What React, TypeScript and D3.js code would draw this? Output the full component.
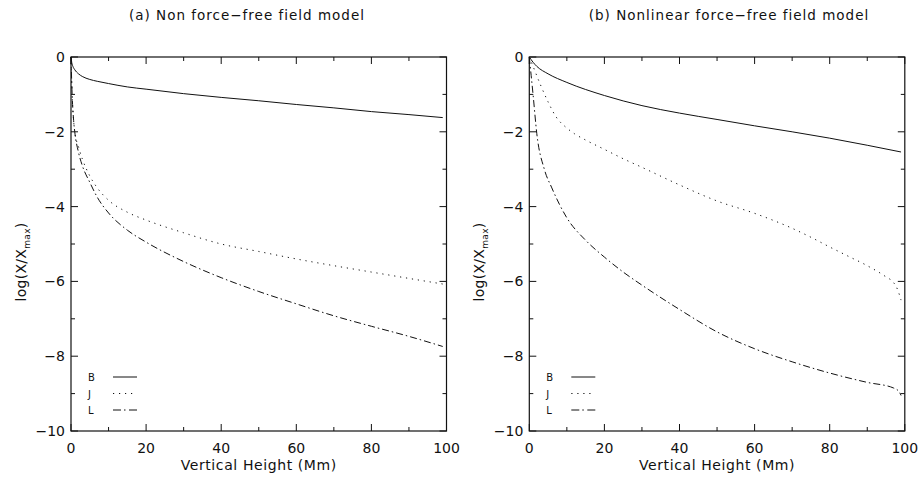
import React from "react";
import * as d3 from "d3";

// ---- Data ----
const xTicks = [0, 20, 40, 60, 80, 100];
const xMinor = [10, 30, 50, 70, 90];
const yTicks = [0, -2, -4, -6, -8, -10];
const yMinor = [-1, -3, -5, -7, -9];

// Panel (a) Non force-free field model
const aB_x = [0, 0.2, 0.5, 1, 2, 3, 5, 7, 10, 15, 20, 30, 40, 50, 60, 70, 80, 90, 99];
const aB_y = [0, -0.15, -0.25, -0.34, -0.45, -0.52, -0.6, -0.65, -0.71, -0.8, -0.86, -0.98, -1.08, -1.17, -1.27, -1.36, -1.46, -1.54, -1.62];
const aJ_x = [0, 0.3, 0.7, 1, 2, 3, 5, 7, 10, 15, 20, 30, 40, 50, 60, 70, 80, 90, 99];
const aJ_y = [0, -1.0, -1.7, -2.0, -2.4, -2.72, -3.18, -3.5, -3.83, -4.15, -4.36, -4.7, -5.0, -5.2, -5.4, -5.58, -5.75, -5.92, -6.07];
const aL_x = [0, 0.3, 0.7, 1, 2, 3, 5, 7, 10, 15, 20, 30, 40, 50, 60, 70, 80, 90, 99];
const aL_y = [0, -1.0, -1.7, -2.0, -2.55, -2.9, -3.35, -3.75, -4.17, -4.63, -4.95, -5.47, -5.9, -6.27, -6.6, -6.92, -7.2, -7.47, -7.74];

// Panel (b) Nonlinear force-free field model
const bB_x = [0, 1, 2, 5, 10, 20, 30, 40, 50, 60, 70, 80, 90, 99];
const bB_y = [0, -0.14, -0.25, -0.45, -0.68, -1.03, -1.3, -1.5, -1.67, -1.84, -2.0, -2.17, -2.36, -2.54];
const bJ_x = [0, 1, 3, 5, 7, 10, 12, 15, 20, 25, 30, 40, 50, 60, 70, 75, 80, 85, 90, 95, 97, 98, 99];
const bJ_y = [0, -0.25, -0.75, -1.2, -1.58, -1.9, -2.05, -2.22, -2.47, -2.72, -2.95, -3.42, -3.85, -4.18, -4.58, -4.82, -5.08, -5.33, -5.58, -5.88, -6.03, -6.2, -6.5];
const bL_x = [0, 0.5, 1, 2, 4, 6, 10, 15, 20, 25, 30, 40, 50, 60, 70, 80, 90, 97, 98.5, 99];
const bL_y = [0, -0.5, -1.0, -2.05, -3.0, -3.5, -4.3, -4.9, -5.35, -5.75, -6.1, -6.75, -7.35, -7.8, -8.15, -8.45, -8.7, -8.85, -8.95, -9.05];

const legendLabels = ["B", "J", "L"];
const titles = ["(a) Non force\u2212free field model", "(b) Nonlinear force\u2212free field model"];
const xTitle = "Vertical Height (Mm)";
const styles = ["none", "1.2,4.8", "7,3,1.5,3"];

const W = 923, H = 478;
const top = 57, bottom = 431, pw = 375.5;
const font = "'DejaVu Sans', sans-serif";
const ink = "#111";

function zip(xs: number[], ys: number[]): [number, number][] {
  return xs.map((x, i) => [x, ys[i]]);
}

function Panel({ x0, title, titleX, series }: { x0: number; title: string; titleX: number; series: [number, number][][] }) {
  const x = d3.scaleLinear().domain([0, 100]).range([x0, x0 + pw]);
  const y = d3.scaleLinear().domain([0, -10]).range([top, bottom]);
  const line = d3.line<[number, number]>().x(d => x(d[0])).y(d => y(d[1])).curve(d3.curveMonotoneX);
  const L = x0, R = x0 + pw;
  const legY = [377, 393.5, 410];
  return (
    <g>
      <text x={titleX} y={20} textAnchor="middle" fontFamily={font} fontSize={13.5} letterSpacing={1.0} fill={ink}>{title}</text>
      {series.map((s, i) => (
        <path key={i} d={line(s) || ""} fill="none" stroke={ink} strokeWidth={1}
          strokeDasharray={styles[i] === "none" ? undefined : styles[i]} />
      ))}
      <rect x={L} y={top} width={pw} height={bottom - top} fill="none" stroke={ink} strokeWidth={1.2} />
      {xTicks.map(t => (
        <g key={"xt" + t}>
          <line x1={x(t)} x2={x(t)} y1={bottom} y2={bottom - 7} stroke={ink} />
          <line x1={x(t)} x2={x(t)} y1={top} y2={top + 7} stroke={ink} />
          <text x={x(t)} y={453} textAnchor="middle" fontFamily={font} fontSize={14} fill={ink}>{t}</text>
        </g>
      ))}
      {xMinor.map(t => (
        <g key={"xm" + t}>
          <line x1={x(t)} x2={x(t)} y1={bottom} y2={bottom - 4} stroke={ink} />
          <line x1={x(t)} x2={x(t)} y1={top} y2={top + 4} stroke={ink} />
        </g>
      ))}
      {yTicks.map(t => (
        <g key={"yt" + t}>
          <line x1={L} x2={L + 7} y1={y(t)} y2={y(t)} stroke={ink} />
          <line x1={R} x2={R - 7} y1={y(t)} y2={y(t)} stroke={ink} />
          <text x={L - 6} y={y(t) + 5} textAnchor="end" fontFamily={font} fontSize={14} fill={ink}>
            {t < 0 ? "\u2212" + Math.abs(t) : String(t)}
          </text>
        </g>
      ))}
      {yMinor.map(t => (
        <g key={"ym" + t}>
          <line x1={L} x2={L + 4} y1={y(t)} y2={y(t)} stroke={ink} />
          <line x1={R} x2={R - 4} y1={y(t)} y2={y(t)} stroke={ink} />
        </g>
      ))}
      <text x={(L + R) / 2} y={470} textAnchor="middle" fontFamily={font} fontSize={14} letterSpacing={0.6} fill={ink}>{xTitle}</text>
      <text transform={`translate(${L - 45},262) rotate(-90)`} textAnchor="middle" fontFamily={font} fontSize={14} letterSpacing={0.3} fill={ink}>
        log(X/X<tspan fontSize={9} dy={4}>max</tspan><tspan dy={-4}>)</tspan>
      </text>
      {legendLabels.map((lab, i) => (
        <g key={lab}>
          <text x={L + 17} y={legY[i] + 4} fontFamily={font} fontSize={10} fill={ink}>{lab}</text>
          <line x1={L + 42} x2={L + 66} y1={legY[i]} y2={legY[i]} stroke={ink} strokeWidth={1}
            strokeDasharray={styles[i] === "none" ? undefined : (i === 1 ? "1.2,4.8" : "8,3,1.5,3.5")} />
        </g>
      ))}
    </g>
  );
}

export default function App() {
  const aSeries = [zip(aB_x, aB_y), zip(aJ_x, aJ_y), zip(aL_x, aL_y)];
  const bSeries = [zip(bB_x, bB_y), zip(bJ_x, bJ_y), zip(bL_x, bL_y)];
  return (
    <svg width={W} height={H} style={{ position: "absolute", left: 0, top: 0, background: "#fff" }}>
      <rect width={W} height={H} fill="#fff" />
      <Panel x0={71} title={titles[0]} titleX={247} series={aSeries} />
      <Panel x0={529.3} title={titles[1]} titleX={729} series={bSeries} />
    </svg>
  );
}
